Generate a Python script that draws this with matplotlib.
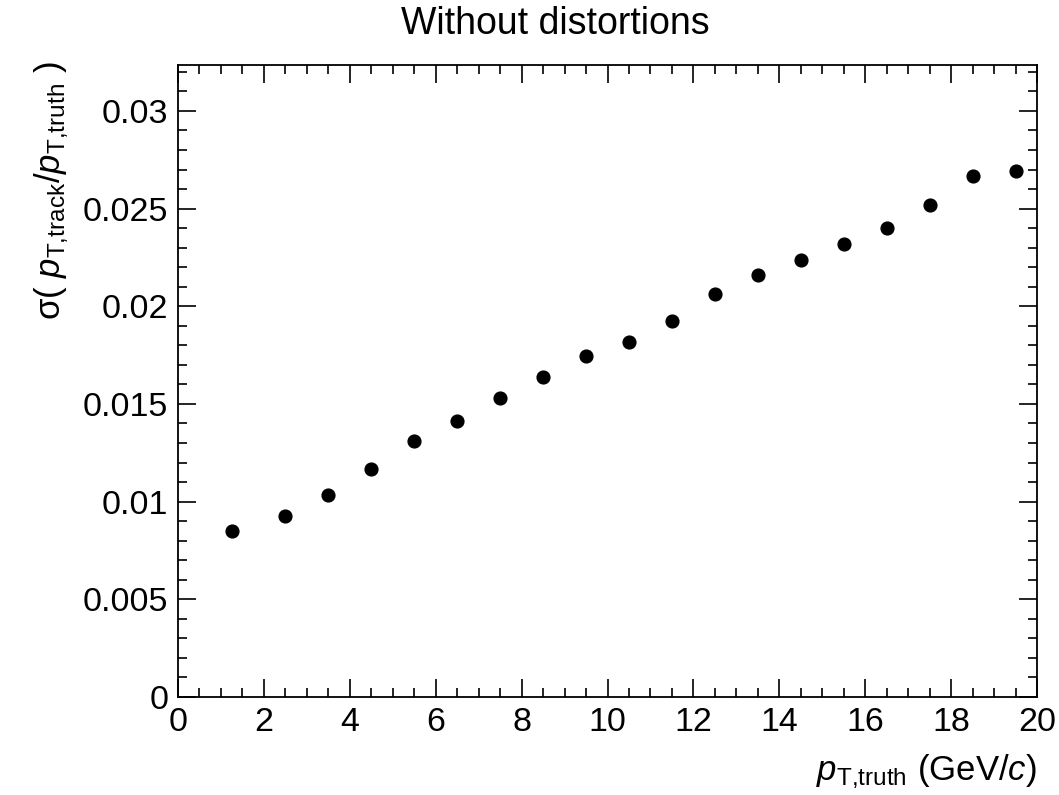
import matplotlib
matplotlib.use("Agg")
import matplotlib.pyplot as plt
from matplotlib.ticker import MultipleLocator

plt.rcParams['font.family'] = ['Liberation Sans', 'DejaVu Sans']
plt.rcParams['mathtext.fontset'] = 'custom'
plt.rcParams['mathtext.rm'] = 'Liberation Sans'
plt.rcParams['mathtext.it'] = 'Liberation Sans:italic'
plt.rcParams['mathtext.bf'] = 'Liberation Sans:bold'

# Data
pt_truth = [1.25, 2.5, 3.5, 4.5, 5.5, 6.5, 7.5, 8.5, 9.5, 10.5,
            11.5, 12.5, 13.5, 14.5, 15.5, 16.5, 17.5, 18.5, 19.5]
sigma = [0.00850, 0.00928, 0.01033, 0.01167, 0.01312, 0.01415, 0.01532,
         0.01640, 0.01747, 0.01816, 0.01925, 0.02062, 0.02160, 0.02236,
         0.02319, 0.02403, 0.02519, 0.02667, 0.02694]

title = "Without distortions"
xlabel = r"$p_{\mathrm{T{,}truth}}$ (GeV/$c$)"
ylabel = r"σ( $p_{\mathrm{T{,}track}}$/$p_{\mathrm{T{,}truth}}$ )"
ytick_labels = ["0", "0.005", "0.01", "0.015", "0.02", "0.025", "0.03"]
yticks = [0, 0.005, 0.01, 0.015, 0.02, 0.025, 0.03]

W, H = 1059, 795
fig = plt.figure(figsize=(W / 100, H / 100), dpi=100)
ax = fig.add_axes([178 / W, 1 - 697 / H, (1037 - 178) / W, (697 - 65) / H])

ax.plot(pt_truth, sigma, 'o', color='black', markersize=9.2, linestyle='none')

ax.xaxis.set_major_locator(MultipleLocator(2))
ax.xaxis.set_minor_locator(MultipleLocator(0.5))
ax.yaxis.set_minor_locator(MultipleLocator(0.001))
ax.set_yticks(yticks)
ax.set_yticklabels(ytick_labels)
ax.set_xlim(0, 20)
ax.set_ylim(0, 0.03235)
ax.xaxis.set_major_formatter(matplotlib.ticker.FuncFormatter(lambda v, p: f"{int(round(v))}"))

ax.tick_params(which='both', direction='in', top=True, right=True, width=1.2)
ax.tick_params(which='major', length=13, labelsize=24.5, pad=7)
ax.tick_params(which='minor', length=6.5)

for s in ax.spines.values():
    s.set_linewidth(1.3)

ax.set_xlabel(xlabel, fontsize=25, loc='right')
ax.xaxis.set_label_coords(1.0, -0.088)
ax.xaxis.label.set_verticalalignment('top')

ax.set_ylabel(ylabel, fontsize=25, loc='top')
ax.yaxis.set_label_coords(-0.125, 1.005)

fig.text(555 / W, 1 - 34 / H, title, fontsize=27, ha='center', va='baseline')

fig.savefig("out.png", dpi=100)
